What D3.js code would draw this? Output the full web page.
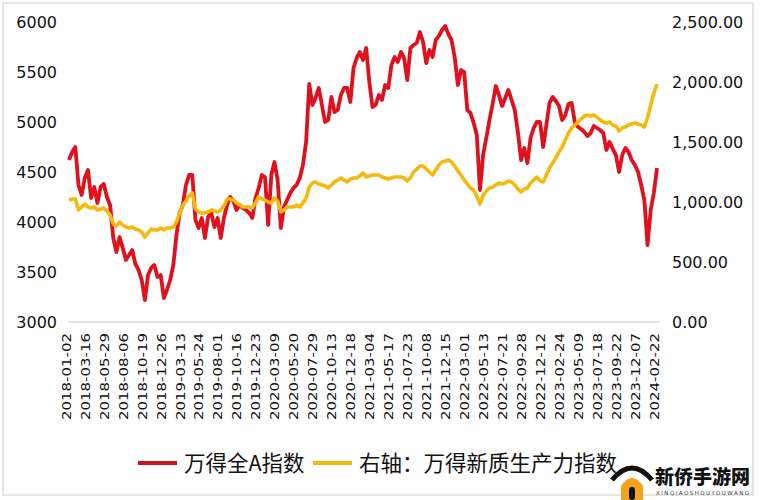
<!DOCTYPE html>
<html><head><meta charset="utf-8">
<script src="https://cdn.jsdelivr.net/npm/d3@7"></script>
<style>body{margin:0;background:#fff} svg{display:block}</style>
</head><body>
<svg id="c" width="761" height="500"></svg>
<script>
const tickLabels = ["2018-01-02","2018-03-16","2018-05-29","2018-08-06","2018-10-19","2018-12-26",
"2019-03-13","2019-05-24","2019-08-01","2019-10-16","2019-12-23","2020-03-09","2020-05-20",
"2020-07-29","2020-10-13","2020-12-18","2021-03-04","2021-05-17","2021-07-23","2021-10-08",
"2021-12-15","2022-03-01","2022-05-13","2022-07-21","2022-09-28","2022-12-12","2023-02-24",
"2023-05-09","2023-07-18","2023-09-22","2023-12-07","2024-02-22"];
const samplesPerLabel = 6;

// 万得全A指数 (left axis)
const wanAll = [
4620,4700,4750,4370,4270,4440,4520,4240,4350,4190,
4350,4380,4250,4170,3840,3700,3850,3740,3620,3670,
3720,3580,3520,3420,3220,3470,3540,3570,3450,3470,
3240,3320,3420,3570,3870,4090,4170,4370,4470,4470,
4020,3940,4040,3840,4050,4090,3950,4040,3840,4040,
4170,4250,4210,4120,4170,4140,4120,4090,4040,4240,
4340,4470,4450,3970,4470,4600,4420,3940,4150,4220,
4290,4340,4370,4440,4570,4800,5380,5170,5240,5340,
5170,5000,5020,5250,5100,5120,5270,5340,5340,5200,
5540,5640,5700,5620,5740,5400,5150,5170,5270,5220,
5370,5340,5570,5650,5600,5700,5640,5420,5740,5770,
5790,5900,5800,5590,5720,5650,5820,5860,5920,5960,
5880,5820,5650,5370,5520,5500,5120,5090,4990,4870,
4320,4670,4840,5020,5180,5360,5270,5160,5240,5320,
5220,5120,4900,4620,4740,4590,4840,4940,5000,5000,
4750,4970,5190,5250,5210,5160,5020,5070,5180,5190,
5000,4950,4930,4900,4860,4890,4960,4940,4920,4890,
4720,4800,4730,4670,4500,4670,4740,4700,4620,4570,
4500,4370,4220,3770,4120,4290,4540];

// 万得新质生产力指数 (right axis)
const newQuality = [
1017,1025,1025,933,958,983,958,950,958,933,
942,950,925,892,817,800,833,808,792,783,
792,775,767,750,708,742,775,767,767,783,
767,783,783,792,833,908,975,1008,1050,1075,
942,917,908,908,917,933,925,917,933,967,
1025,1025,1017,992,975,958,958,958,950,992,
1042,1025,1017,1000,992,1033,1008,917,933,958,
958,958,975,958,992,1033,1125,1158,1167,1150,
1142,1133,1117,1142,1167,1183,1200,1183,1167,1192,
1200,1200,1217,1242,1208,1217,1225,1225,1225,1208,
1200,1192,1200,1208,1208,1208,1200,1175,1200,1250,
1275,1300,1300,1275,1250,1225,1267,1308,1333,1342,
1350,1333,1300,1258,1225,1183,1150,1117,1100,1050,
983,1058,1092,1117,1125,1142,1158,1150,1158,1175,
1167,1142,1108,1083,1108,1117,1158,1183,1208,1175,
1167,1225,1283,1325,1367,1417,1458,1517,1575,1617,
1642,1667,1692,1717,1725,1717,1725,1708,1683,1667,
1658,1667,1642,1633,1592,1617,1625,1642,1650,1658,
1650,1642,1625,1700,1808,1908,1983];

const leftTicks = [3000,3500,4000,4500,5000,5500,6000];
const rightTicks = [0,500,1000,1500,2000,2500];
const seriesNames = ["万得全A指数","右轴：万得新质生产力指数"];
const colors = ["#e0101c","#f5b80c"];

const svg = d3.select("#c");
svg.append("rect").attr("x",3).attr("y",3).attr("width",750).attr("height",492)
  .attr("fill","#fff").attr("stroke","#dedede").attr("stroke-width",1.5);

const x = d3.scaleLinear().domain([0, wanAll.length-1]).range([69,657]);
const yL = d3.scaleLinear().domain([3000,6000]).range([322,22]);
const yR = d3.scaleLinear().domain([0,2500]).range([322,22]);

// baseline
svg.append("line").attr("x1",x(0)-1).attr("x2",x(wanAll.length-1)+3)
  .attr("y1",yL(3000)).attr("y2",yL(3000)).attr("stroke","#d9d9d9").attr("stroke-width",1.5);

const tickFont = "'DejaVu Sans', Verdana, sans-serif";
// left axis
const gL = svg.append("g").attr("transform",`translate(${x(0)},0)`)
  .call(d3.axisLeft(yL).tickValues(leftTicks).tickSize(0).tickPadding(12).tickFormat(d3.format("d")));
gL.select(".domain").remove();
gL.selectAll("text").attr("font-family",tickFont).attr("font-size",16).attr("fill","#111");

// right axis
const gR = svg.append("g").attr("transform",`translate(${x(wanAll.length-1)},0)`)
  .call(d3.axisRight(yR).tickValues(rightTicks).tickSize(0).tickPadding(15).tickFormat(d3.format(",.2f")));
gR.select(".domain").remove();
gR.selectAll("text").attr("font-family",tickFont).attr("font-size",16).attr("fill","#111");

// bottom axis
const tickIdx = tickLabels.map((d,i)=>i*samplesPerLabel);
const gB = svg.append("g").attr("transform",`translate(0,${yL(3000)})`)
  .call(d3.axisBottom(x).tickValues(tickIdx).tickSize(0).tickFormat(i=>tickLabels[i/samplesPerLabel]));
gB.select(".domain").remove();
gB.selectAll("text")
  .attr("font-family",tickFont).attr("font-size",12).attr("fill","#111")
  .attr("transform","rotate(-90)").attr("text-anchor","end")
  .attr("x",-11).attr("y",0).attr("dy","0.1em")
  .attr("textLength",87).attr("lengthAdjust","spacingAndGlyphs");

// lines
const lineL = d3.line().x((d,i)=>x(i)).y(d=>yL(d));
const lineR = d3.line().x((d,i)=>x(i)).y(d=>yR(d));
svg.append("path").datum(wanAll).attr("d",lineL).attr("fill","none")
  .attr("stroke",colors[0]).attr("stroke-width",3.8).attr("stroke-linejoin","round");
svg.append("path").datum(newQuality).attr("d",lineR).attr("fill","none")
  .attr("stroke",colors[1]).attr("stroke-width",3.6).attr("stroke-linejoin","round");

// legend
const legX = [138, 313];
const legY = 463;
seriesNames.forEach((name,i)=>{
  svg.append("line").attr("x1",legX[i]).attr("x2",legX[i]+39).attr("y1",legY).attr("y2",legY)
    .attr("stroke",i===0?"#c8141e":colors[1]).attr("stroke-width",4);
  svg.append("text").attr("x",legX[i]+46).attr("y",legY).attr("dy","0.36em")
    .attr("font-family","'Noto Sans CJK SC', sans-serif").attr("font-size",21.5).attr("fill","#111")
    .text(name);
});

// watermark
const wm = svg.append("g");
wm.append("path").attr("d","M612,480 Q632,456 652,480").attr("fill","none").attr("stroke","#111").attr("stroke-width",5);
wm.append("path").attr("d","M621,500 L621,486 Q632,470 643,486 L643,500 Z").attr("fill","#f4a41c");
wm.append("rect").attr("x",629).attr("y",487).attr("width",6).attr("height",13).attr("rx",3).attr("fill","#111");
wm.append("text").attr("x",655).attr("y",484).attr("font-family","'Noto Sans CJK SC', sans-serif")
  .attr("font-weight",900).attr("font-size",19).attr("fill","#111").text("新侨手游网");
wm.append("text").attr("x",656).attr("y",495).attr("font-family","'DejaVu Sans', sans-serif")
  .attr("font-size",5.5).attr("fill","#333").attr("textLength",93).text("XINQIAOSHOUYOUWANG");
</script>
</body></html>
